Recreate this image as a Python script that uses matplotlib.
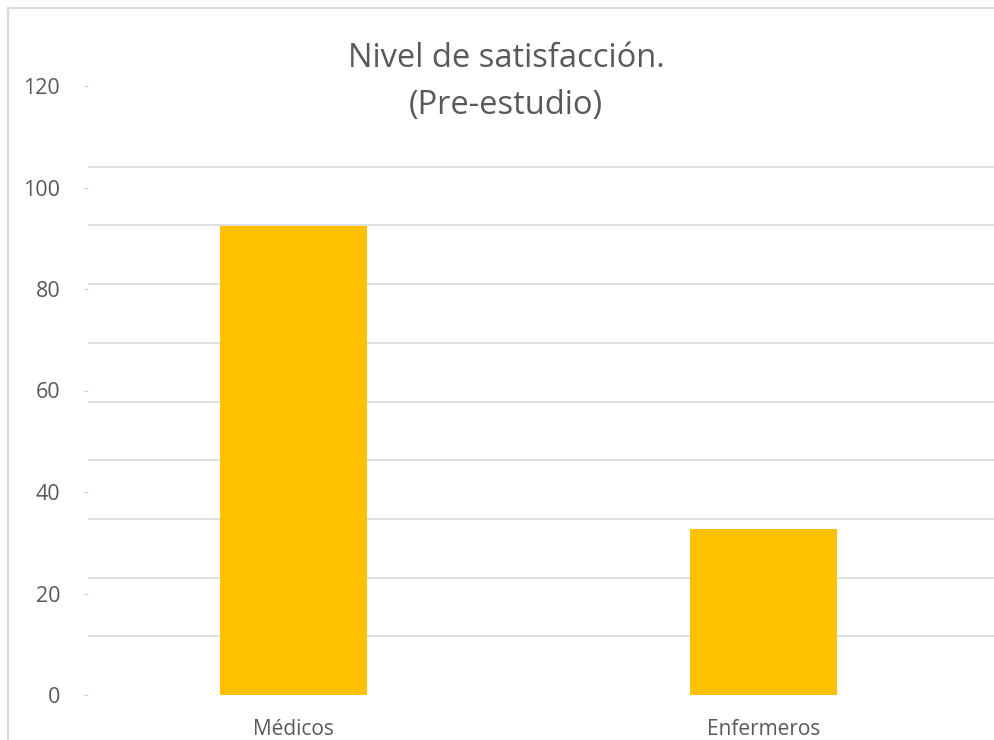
import matplotlib
matplotlib.use("Agg")
import matplotlib.pyplot as plt
import numpy as np
from matplotlib.lines import Line2D

categories = ["Médicos", "Enfermeros"]
values = [92.4, 32.7]
ytick_values = [0, 20, 40, 60, 80, 100, 120]
title = "Nivel de satisfacción.\n(Pre-estudio)"

plt.rcParams['font.family'] = ['Open Sans', 'DejaVu Sans']

W, H = 994, 740
fig = plt.figure(figsize=(W / 100, H / 100), dpi=100)
fig.patch.set_facecolor("white")

# axes: left 88px, bottom (y=0) at 695px, top at 60px
ax_left, ax_right = 88, 994
ax_top, ax_bot = 60, 695
ax = fig.add_axes([ax_left / W, (H - ax_bot) / H, (ax_right - ax_left) / W, (ax_bot - ax_top) / H])

px_per_unit = 101.5 / 20
ax.set_ylim(0, (ax_bot - ax_top) / px_per_unit)
ax.set_xlim(-0.437, 1.49)

x = np.arange(len(categories))
ax.bar(x, values, width=0.313, color="#FFC000", zorder=3)

# gridlines (minor ticks) every 58.7 px
grid_step = 58.7 / px_per_unit
ax.set_yticks([i * grid_step for i in range(10)], minor=True)
ax.yaxis.grid(True, which="minor", color="#d9d9d9", linewidth=1.2, zorder=0)
ax.tick_params(axis="y", which="minor", length=0)

ax.set_yticks(ytick_values)
ax.set_yticklabels([str(v) for v in ytick_values])
ax.tick_params(axis="y", which="major", length=3, width=0.8, color="#d0d0d0",
               labelsize=15.5, labelcolor="#595959", pad=17)

ax.set_xticks(x)
ax.set_xticklabels(categories)
ax.tick_params(axis="x", length=0, labelsize=15, labelcolor="#595959", pad=17)

for s in ax.spines.values():
    s.set_visible(False)

fig.text(506 / W, 1 - 82 / H, title, ha="center", va="center", fontsize=23.5,
         color="#595959", linespacing=1.55)

# chart border (top and left)
fig.add_artist(Line2D([8 / W, 1], [1 - 8 / H, 1 - 8 / H], color="#d9d9d9", linewidth=1.5))
fig.add_artist(Line2D([8 / W, 8 / W], [0, 1 - 8 / H], color="#d9d9d9", linewidth=1.5))

fig.savefig("out.png", dpi=100, facecolor="white")
